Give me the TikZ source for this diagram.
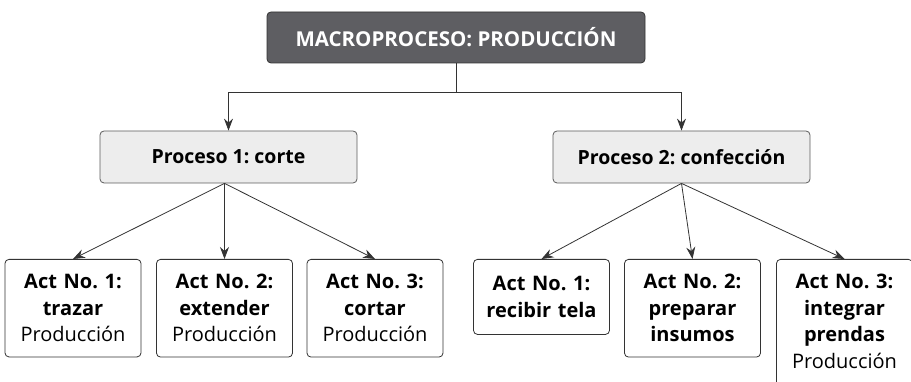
\documentclass[tikz,border=0pt]{standalone}
\usepackage{fontspec}
\setmainfont{Open Sans}
\usetikzlibrary{arrows.meta,calc}
\frenchspacing

\definecolor{macrogray}{HTML}{5E5E62}
\definecolor{procgray}{HTML}{EDEDED}
\definecolor{linegray}{HTML}{333333}

\begin{document}
\begin{tikzpicture}[x=1pt,y=1pt,
    macrobox/.style={draw=linegray, fill=macrogray, rounded corners=4pt, line width=0.8pt,
      text=white, font=\fontsize{20.5}{24}\selectfont\bfseries,
      minimum width=378pt, minimum height=51pt},
    procbox/.style={draw=linegray!80, fill=procgray, rounded corners=4pt, line width=0.8pt,
      font=\fontsize{19.5}{24}\selectfont\bfseries,
      minimum width=257pt, minimum height=52pt},
    actbox/.style={draw=linegray, fill=white, rounded corners=4pt, line width=0.8pt,
      anchor=north, align=center, text width=128pt, inner xsep=4pt,
      inner ysep=15pt, minimum width=136pt,
      font=\fontsize{20}{26.5}\selectfont},
    link/.style={draw=linegray, line width=0.8pt, -{Stealth[length=12pt,width=9pt,inset=4pt]}}]
  \useasboundingbox (0,0) rectangle (911,382);
  \clip (0,0) rectangle (911,382);

  % top level
  \node[macrobox] (macro) at (456,344.5) {MACROPROCESO: PRODUCCIÓN};
  \coordinate (bus) at (456,290);

  % processes
  \node[procbox] (proc1) at (228.5,225) {Proceso 1: corte};
  \node[procbox] (proc2) at (681.5,225) {Proceso 2: confección};

  % activities, proceso 1
  \node[actbox] (act11) at (73,123) {\textbf{Act No. 1:}\\ \textbf{trazar}\\ Producción};
  \node[actbox] (act12) at (224.5,123) {\textbf{Act No. 2:}\\ \textbf{extender}\\ Producción};
  \node[actbox] (act13) at (375,123) {\textbf{Act No. 3:}\\ \textbf{cortar}\\ Producción};

  % activities, proceso 2
  \node[actbox, inner ysep=17pt] (act21) at (541.5,123) {\textbf{Act No. 1:}\\ \textbf{recibir tela}};
  \node[actbox] (act22) at (692.5,123) {\textbf{Act No. 2:}\\ \textbf{preparar}\\ \textbf{insumos}};
  \node[actbox] (act23) at (844.5,123) {\textbf{Act No. 3:}\\ \textbf{integrar}\\ \textbf{prendas}\\ Producción\rule[-20pt]{0pt}{20pt}};

  % connectors
  \draw[linegray, line width=0.8pt] (macro.south) -- (bus);
  \draw[link] (bus) -| (proc1.north);
  \draw[link] (bus) -| (proc2.north);

  \coordinate (fork1) at (proc1.south -| act12.north);
  \draw[link] (fork1) -- (act11.north);
  \draw[link] (fork1) -- (act12.north);
  \draw[link] (fork1) -- (act13.north);

  \draw[link] (proc2.south) -- (act21.north);
  \draw[link] (proc2.south) -- (act22.north);
  \draw[link] (proc2.south) -- (act23.north);
\end{tikzpicture}
\end{document}
